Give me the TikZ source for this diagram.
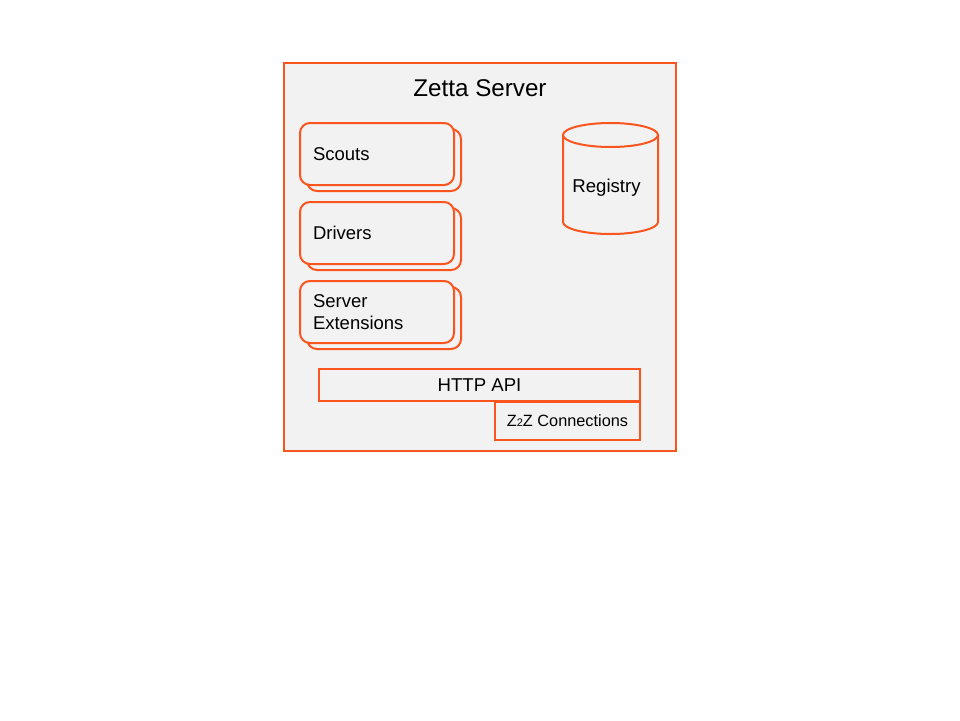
\documentclass[tikz,border=0pt]{standalone}
\usepackage{fontspec}
\setmainfont{Liberation Sans}
\usepackage{tikz}

\definecolor{zorange}{RGB}{250,85,30}
\definecolor{zgray}{RGB}{241,242,241}

\tikzset{
	boxline/.style={draw=zorange, line width=2pt, fill=zgray},
	stackbox/.style={boxline, rounded corners=10pt, minimum width=154pt, minimum height=62pt,
		text width=128pt, inner sep=0pt, align=left, font=\fontsize{18.5}{22}\selectfont},
	flatbox/.style={boxline, inner sep=0pt, font=\fontsize{18.6}{22}\selectfont}
}

\begin{document}
\begin{tikzpicture}[x=1pt, y=-1pt]
	
	\useasboundingbox (0,0) rectangle (960,720);
	
	\node[boxline, minimum width=392pt, minimum height=388pt, inner sep=0pt] (server) at (480,257) {};
	\node[font=\fontsize{24.2}{28}\selectfont] (title) at (480,88.5) {Zetta Server};
	
	\node[stackbox] (scoutsback) at (384,160) {};
	\node[stackbox] (scouts) at (377,154) {Scouts};
	\node[stackbox] (driversback) at (384,239) {};
	\node[stackbox] (drivers) at (377,233) {Drivers};
	\node[stackbox] (extback) at (384,318) {};
	\node[stackbox] (ext) at (377,312) {Server\\Extensions};
	
	\draw[boxline] (563,135) -- (563,222) arc[start angle=180, end angle=0, x radius=47.5, y radius=12] -- (658,135);
	\draw[boxline] (610.5,135) ellipse [x radius=47.5, y radius=12];
	\node[font=\fontsize{18.6}{22}\selectfont] (registry) at (606.5,187.5) {Registry};
	
	\node[flatbox, minimum width=321pt, minimum height=32pt] (api) at (479.5,385) {HTTP API};
	\node[flatbox, minimum width=145pt, minimum height=38pt, font=\fontsize{16.3}{19}\selectfont] (z2z) at (567.5,420.5)
		{Z{\fontsize{11}{12}\selectfont 2}Z Connections};
	
\end{tikzpicture}
\end{document}
